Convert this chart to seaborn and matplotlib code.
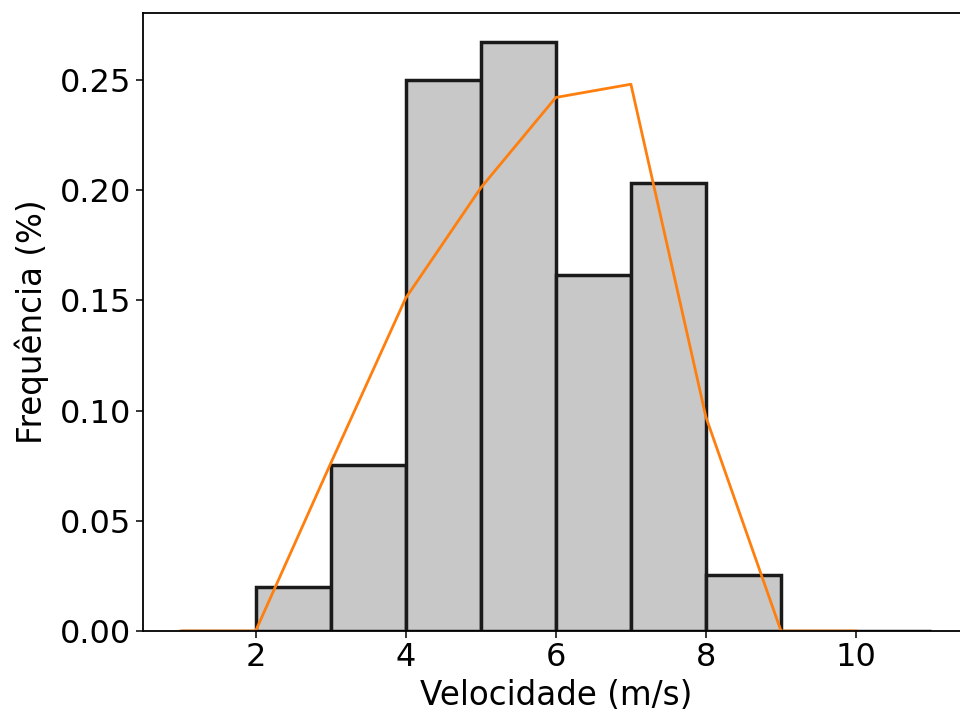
import numpy as np
import seaborn as sns
import matplotlib
matplotlib.use("Agg")
import matplotlib.pyplot as plt

# histogram bins (m/s) and relative frequencies
bin_edges = [1, 2, 3, 4, 5, 6, 7, 8, 9, 10, 11]
bin_freq = [0.0, 0.020, 0.0753, 0.250, 0.267, 0.1615, 0.203, 0.0254, 0.0, 0.0]

# fitted curve evaluated at integer speeds
curve_x = [1, 2, 3, 4, 5, 6, 7, 8, 9, 10]
curve_y = [0.0, 0.0, 0.076, 0.151, 0.201, 0.242, 0.248, 0.097, 0.0, 0.0]

bin_centers = [(a + b) / 2 for a, b in zip(bin_edges[:-1], bin_edges[1:])]

fig = plt.figure(figsize=(9.6, 7.17), dpi=100)
ax = fig.add_axes([0.149, 0.12, 0.86, 0.862])

sns.histplot(x=bin_centers, weights=bin_freq, bins=bin_edges, ax=ax,
             color="#c8c8c8", alpha=1, edgecolor="#1a1a1a", linewidth=2.5)
sns.lineplot(x=curve_x, y=curve_y, ax=ax, color="#ff7f0e", linewidth=2.0)

ax.set_xticks([2, 4, 6, 8, 10])
ax.set_yticks([0.0, 0.05, 0.10, 0.15, 0.20, 0.25])
ax.set_yticklabels(["0.00", "0.05", "0.10", "0.15", "0.20", "0.25"])
ax.tick_params(labelsize=23, length=4.8, width=1.1, colors="black")
ax.set_xlabel("Velocidade (m/s)", fontsize=23.5, labelpad=4)
ax.set_ylabel("Frequência (%)", fontsize=23.5, labelpad=8)
for s in ax.spines.values():
    s.set_linewidth(1.3)
    s.set_color("black")
ax.spines["right"].set_visible(False)

plt.savefig("out.png", dpi=100)
